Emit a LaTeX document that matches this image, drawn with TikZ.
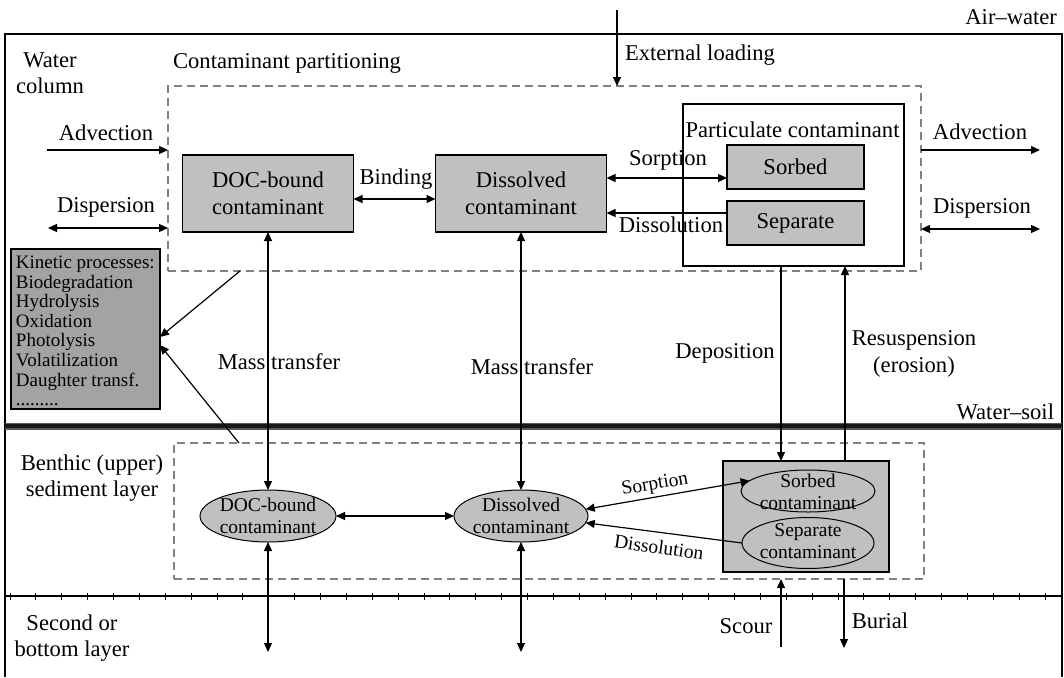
\documentclass[tikz,border=0pt]{standalone}
\usepackage{fontspec}
\setmainfont{Liberation Serif}
\usetikzlibrary{arrows.meta,shapes.geometric,calc}
\definecolor{boxgray}{RGB}{192,192,192}
\definecolor{kingray}{RGB}{163,163,163}
\definecolor{dashgray}{RGB}{128,128,128}
\newcommand\bigf{\fontsize{22.6}{26.5}\selectfont}
\newcommand\smallf{\fontsize{19.5}{21.5}\selectfont}
\newcommand\kinf{\fontsize{19}{19.6}\selectfont}
\begin{document}
\begin{tikzpicture}[x=1pt,y=-1pt,
 every node/.style={inner sep=0pt, outer sep=0pt},
 lbl/.style={font=\bigf, align=center},
 slbl/.style={font=\smallf, align=center},
 gbox/.style={draw, line width=1.3pt, fill=boxgray, font=\bigf, align=center},
 dbox/.style={draw=dashgray, line width=1.2pt, dash pattern=on 8pt off 5pt},
 ell/.style={ellipse, draw, line width=1pt, fill=boxgray},
 arr/.style={draw, line width=1.2pt, -{Triangle[length=9pt,width=8pt]}},
 darr/.style={draw, line width=1.2pt, {Triangle[length=9pt,width=8pt]}-{Triangle[length=9pt,width=8pt]}},
]
\useasboundingbox (0,0) rectangle (1064,677);

% frame and layer lines
\draw[line width=2pt] (5,677) -- (5,34) -- (1062,34) -- (1062,677);
\draw[line width=7pt, black!65] (5,426) -- (1062,426);
\draw[line width=4pt, black!90] (5,426) -- (1062,426);
\draw[line width=1.3pt] (5,596) -- (1062,596);
\foreach \k in {0,...,40} \draw[line width=1pt] ({10+25.875*\k},593) -- ({10+25.875*\k},600);

% water column
\node[dbox, minimum width=753pt, minimum height=185pt] (upDash) at (544.5,178.5) {};
\node[draw, line width=1.3pt, minimum width=221pt, minimum height=162pt] (part) at (793.5,185) {};
\node[gbox, minimum width=171pt, minimum height=77pt] (docU) at (268,193.5) {DOC-bound\\contaminant};
\node[gbox, minimum width=171pt, minimum height=77pt] (disU) at (521,193.5) {Dissolved\\contaminant};
\node[gbox, minimum width=137pt, minimum height=44pt] (sorbU) at (795.5,167) {Sorbed};
\node[gbox, minimum width=137pt, minimum height=44pt] (sepU) at (795.5,223) {Separate};
\node[lbl] (partlbl) at (792.5,130) {Particulate contaminant};

\node[draw, line width=1.3pt, fill=kingray, minimum width=149pt, minimum height=160pt] (kin) at (85.5,329) {};
\node[font=\kinf, align=left, anchor=north west] (kintxt) at (16,256) {Kinetic processes:\\Biodegradation\\Hydrolysis\\Oxidation\\Photolysis\\Volatilization\\Daughter transf.\\.........};

% sediment
\node[dbox, minimum width=750pt, minimum height=136pt] (lowDash) at (549,511) {};
\node[draw, line width=1.3pt, fill=boxgray, minimum width=166pt, minimum height=111pt] (lowBox) at (806,516.5) {};
\node[ell, minimum width=136pt, minimum height=52pt] (docL) at (268,516) {};
\node[slbl] (docLt) at (docL) {DOC-bound\\contaminant};
\node[ell, minimum width=134pt, minimum height=52pt] (disL) at (521,516) {};
\node[slbl] (disLt) at (disL) {Dissolved\\contaminant};
\node[ell, minimum width=134pt, minimum height=42pt] (sorbL) at (808,491) {};
\node[slbl] (sorbLt) at (808,492) {Sorbed\\contaminant};
\node[ell, minimum width=132pt, minimum height=51pt] (sepL) at (808,543) {};
\node[slbl] (sepLt) at (808,541) {Separate\\contaminant};

% coordinates
\coordinate (extS) at (617,10);
\coordinate (advLs) at (47,150);
\coordinate (dspLs) at (48,228);
\coordinate (advRe) at (1040,150);
\coordinate (dspRe) at (1040,229);
\coordinate (bindY) at (0,199);
\coordinate (sorpY) at (0,178);
\coordinate (dissY) at (0,213);
\coordinate (docB) at (268,652);
\coordinate (disB) at (521,652);
\coordinate (depX) at (781,0);
\coordinate (resX) at (845,0);
\coordinate (scourS) at (781,647);
\coordinate (burE) at (844,648);
\coordinate (k1s) at (240,0);
\coordinate (k2s) at (239,0);

% connectors
\draw[arr] (extS) -- (upDash.north -| extS);
\draw[arr] (advLs) -- (upDash.west |- advLs);
\draw[darr] (dspLs) -- (upDash.west |- dspLs);
\draw[arr] (upDash.east |- advRe) -- (advRe);
\draw[darr] (upDash.east |- dspRe) -- (dspRe);
\draw[darr] (docU.east |- bindY) -- (disU.west |- bindY);
\draw[darr] (disU.east |- sorpY) -- (sorbU.west |- sorpY);
\draw[arr] (sepU.west |- dissY) -- (disU.east |- dissY);
\draw[darr] (docU.south) -- (docL.north);
\draw[darr] (disU.south) -- (disL.north);
\draw[darr] (docL.south) -- (docB);
\draw[darr] (disL.south) -- (disB);
\draw[arr] (part.south -| depX) -- (lowBox.north -| depX);
\draw[arr] (lowBox.north -| resX) -- (part.south -| resX);
\draw[arr] (scourS) -- (lowDash.south -| scourS);
\draw[arr] (lowDash.south -| burE) -- (burE);
\draw[darr] (docL.east) -- (disL.west);
\draw[darr] (disL.6) -- (sorbL.170);
\draw[arr] (sepL.west) -- (disL.-6);
\draw[arr] (upDash.south -| k1s) -- ($(kin.east)+(0,8)$);
\draw[arr] (lowDash.north -| k2s) -- ($(kin.east)+(0,16)$);

% labels
\node[lbl] (waterCol) at (50,73) {Water\\column};
\node[lbl] (cpLbl) at (287,63) {Contaminant partitioning};
\node[lbl] (extLbl) at (700,55) {External loading};
\node[lbl, anchor=east] (airW) at (1057,17) {Air--water};
\node[lbl] (advLl) at (106,133) {Advection};
\node[lbl] (dspLl) at (106,207) {Dispersion};
\node[lbl] (advRl) at (980,132) {Advection};
\node[lbl] (dspRl) at (982,208) {Dispersion};
\node[lbl] (bindL) at (396,179) {Binding};
\node[lbl] (sorpL) at (668,160) {Sorption};
\node[lbl] (dissL) at (671,225) {Dissolution};
\node[lbl] (mt1) at (279,362) {Mass transfer};
\node[lbl] (mt2) at (532,367) {Mass transfer};
\node[lbl] (depL) at (725,353) {Deposition};
\node[lbl] (resL) at (914,354) {Resuspension\\(erosion)};
\node[lbl, anchor=east] (wsL) at (1054,412) {Water--soil};
\node[lbl] (benL) at (92,478) {Benthic (upper)\\sediment layer};
\node[lbl] (secL) at (72,638) {Second or\\bottom layer};
\node[lbl] (scL) at (746,626) {Scour};
\node[lbl] (buL) at (880,621) {Burial};
\node[slbl, rotate=9.4] (sorpLL) at (655,485) {Sorption};
\node[slbl, rotate=-8] (dissLL) at (659,547) {Dissolution};
\end{tikzpicture}
\end{document}
